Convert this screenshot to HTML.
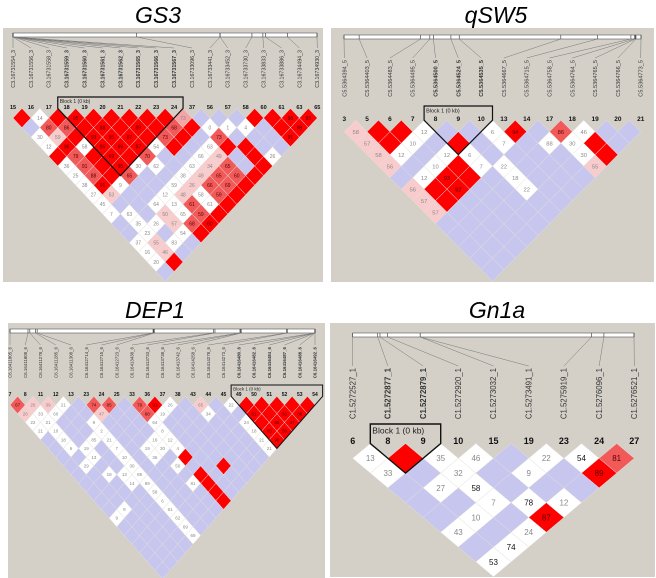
<!DOCTYPE html>
<html><head><meta charset="utf-8">
<style>
html,body{margin:0;padding:0;background:#fff;}
svg{display:block;font-family:"Liberation Sans",sans-serif;}
</style></head>
<body>
<svg id="fig" width="656" height="578" viewBox="0 0 656 578" xmlns="http://www.w3.org/2000/svg">
  <rect x="3" y="28" width="320" height="254" fill="#d4d0c8"/>
  <rect x="331" y="28" width="323" height="254" fill="#d4d0c8"/>
  <rect x="8" y="323" width="317" height="255" fill="#d4d0c8"/>
  <rect x="330" y="323" width="325" height="254" fill="#d4d0c8"/>
  <text x="158" y="23" font-size="23" font-style="italic" text-anchor="middle">GS3</text>
  <text x="496" y="23" font-size="23" font-style="italic" text-anchor="middle">qSW5</text>
  <text x="155" y="318" font-size="23" font-style="italic" text-anchor="middle">DEP1</text>
  <text x="497" y="318" font-size="23" font-style="italic" text-anchor="middle">Gn1a</text>
</svg>
<script>
// ---------- GS3 data ----------
const gs3Nums = ["15","16","17","18","19","20","21","22","23","24","37","56","57","58","60","61","63","65"];
const gs3Names = ["C3.16731554_3","C3.16731556_3","C3.16731558_3","C3.16731559_3","C3.16731560_3","C3.16731561_3","C3.16731562_3","C3.16731565_3","C3.16731566_3","C3.16731567_3","C3.16733096_3","C3.16733441_3","C3.16733452_3","C3.16733730_3","C3.16733833_3","C3.16733886_3","C3.16734494_3","C3.16734930_3"];
const gs3Pos = [0,0,0,0,0,0,0,0,0,0,0.407,0.681,0.681,0.786,0.822,0.830,0.903,1];
const gs3Cells = [
 ["R","w14","R","R95","R","R","R","R","R","p73","b","b","b","R","R","R98","R93"],
 ["b","r80","r86","R","R88","R","R89","R","r68","R","w0","w1","w4","b","R","R98"],
 ["w30","l59","R","R93","R95","R87","R","r73","R","b","r73","b","b","b","R91"],
 ["w12","R96","w58","R95","R89","R87","w54","R","b","w63","R","R","b","b"],
 ["R","r79","R","R69","R","r70","b","b","w66","l49","b","R","w26"],
 ["w36","r91","R","R95","w30","w62","b","w63","l34","r65","b","R"],
 ["w25","r88","R","r65","b","b","w38","l49","r65","r60","R"],
 ["w38","R91","w9","b","b","w59","l26","r66","r69","R"],
 ["w27","l53","b","b","w12","l48","w58","r59","R"],
 ["w45","b","b","w64","w13","r61","w61","R"],
 ["w7","w63","b","l50","w65","r59","R"],
 ["b","w35","w26","l57","r68","R60"],
 ["b","w23","b","w54","R"],
 ["w37","l55","w83","b"],
 ["w16","l46","b"],
 ["w20","R"],
 ["b"]
];
// ---------- qSW5 data ----------
const qswNums = ["3","5","6","7","8","9","10","13","14","17","18","19","20","21"];
const qswNames = ["C5.5364394_5","C5.5364403_5","C5.5364483_5","C5.5364495_5","C5.5364500_5","C5.5364524_5","C5.5364535_5","C5.5364667_5","C5.5364715_5","C5.5364758_5","C5.5364764_5","C5.5364765_5","C5.5364766_5","C5.5364773_5"];
const qswPos = [0,0.051,0.258,0.289,0.301,0.360,0.388,0.730,0.854,0.966,0.978,0.981,0.983,1];
const qswCells = [
 ["l58","R","R","w12","b","b","w6","R94","b","r86","w46","b","b"],
 ["l57","R","w10","b","R","b","w7","b","w88","w30","R","b"],
 ["l58","w12","b","w12","w6","b","b","b","b","w30","R"],
 ["l56","b","w10","R","w7","w22","b","b","b","l55"],
 ["b","w12","R93","R","b","w18","b","b","b"],
 ["l56","R","R92","b","b","w22","b","b"],
 ["l57","R","b","b","b","b","b"],
 ["l57","b","b","b","b","b"],
 ["b","b","b","b","b"],
 ["b","b","b","b"],
 ["b","b","b"],
 ["b","b"],
 ["b"]
];
// ---------- DEP1 data ----------
const depNums = ["7","8","11","12","13","23","24","25","33","36","37","38","43","44","45","49","50","51","52","53","54"];
const depNames = ["C6.16411805_6","C6.16411808_6","C6.16411278_6","C6.16411285_6","C6.16411308_6","C6.16412714_6","C6.16412715_6","C6.16412723_6","C6.16413438_6","C6.16413733_6","C6.16413738_6","C6.16413742_6","C6.16414258_6","C6.16414278_6","C6.16414273_6","C6.16416480_6","C6.16416482_6","C6.16416484_6","C6.16416487_6","C6.16416488_6","C6.16416492_6"];
const depPos = [0,0.059,0.065,0.084,0.089,0.469,0.471,0.473,0.667,0.672,0.754,0.756,0.758,0.907,0.909,1,1,1,1,1,1];
const depCells = [
 ["r67","l26","l39","w21","b","r74","r85","b","r79","R91","w26","b","l65","b","w22","R","R","R","R","R"],
 ["l26","w33","w60","b","b","l47","b","b","r68","w19","b","b","w34","b","b","R61","R","R32","R88"],
 ["w22","w21","b","b","w9","b","b","b","w64","b","b","b","b","b","w24","R","R85","R37"],
 ["w21","w10","b","b","w2","b","b","b","w8","b","b","b","b","b","w18","R65","R50"],
 ["b","w18","b","w85","w21","b","b","w16","w12","b","b","b","b","b","w21","R90"],
 ["b","w6","w19","b","w7","b","w19","w30","w4","b","b","b","b","b","w21"],
 ["b","b","w13","b","w10","b","w36","b","R","b","b","b","b","b"],
 ["b","w29","b","b","w30","b","b","w50","b","b","R","b","b"],
 ["b","b","w18","w13","w85","b","b","b","R","b","b","b"],
 ["b","b","b","w14","w89","b","b","w81","R","b","b"],
 ["b","b","b","b","w58","b","b","b","R","b"],
 ["b","b","b","b","w6","b","b","b","R"],
 ["b","w9","b","b","w61","b","b","b"],
 ["w9","b","b","b","w62","b","b"],
 ["b","b","b","b","w69","b"],
 ["b","b","b","b","w69"],
 ["b","b","b","b"],
 ["b","b","b"],
 ["b","b"],
 ["b"]
];
// ---------- Gn1a data ----------
const gnNums = ["6","8","9","10","15","19","23","24","27"];
const gnNames = ["C1.5272527_1","C1.5272877_1","C1.5272879_1","C1.5272920_1","C1.5273032_1","C1.5273491_1","C1.5275919_1","C1.5276096_1","C1.5276521_1"];
const gnPos = [0,0.089,0.097,0.124,0.240,0.240,0.849,0.893,1];
const gnCells = [
 ["w13","R","w35","w46","b","w22","k54","r81"],
 ["w33","b","w32","b","w9","b","R89"],
 ["b","w27","k58","b","b","b"],
 ["b","b","w7","k78","w12"],
 ["b","w10","b","R87"],
 ["w43","b","w24"],
 ["b","k74"],
 ["k53"]
];

const NS = "http://www.w3.org/2000/svg";
const svg = document.getElementById('fig');
const COL = {R:"#ff0000",r:"#f25a5a",p:"#f4a4a4",l:"#f8cccc",w:"#ffffff",k:"#ffffff",b:"#c6c6ee"};

function mk(tag, attrs, parent){
  const e = document.createElementNS(NS, tag);
  for (const k in attrs) e.setAttribute(k, attrs[k]);
  (parent||svg).appendChild(e);
  return e;
}

function drawPanel(id, nums, names, pos, cells, g, block){
  const grp = mk('g', {});
  
  
  const n = nums.length;
  const mx = i => g.x0 + i * g.step;
  const ruler = mk('rect', {x:g.rx0, y:g.ry, width:g.rx1-g.rx0, height:4, fill:"#fff", stroke:"#555", "stroke-width":0.6}, grp);
  
  
  for (let i=0;i<n;i++){
    const px = g.rx0 + pos[i]*(g.rx1-g.rx0);
    mk('line', {x1:px, y1:g.ry, x2:px, y2:g.ry+4, stroke:"#333", "stroke-width":0.6}, grp);
    const ln = mk('line', {x1:px, y1:g.ry+4, x2:mx(i), y2:g.lt-2, stroke:"#777", "stroke-width":0.5}, grp);
    
    
    const bold = block && i>=block[0] && i<=block[1];
    const t = mk('text', {x:0, y:0, "font-size":g.lf, "text-anchor":"end", fill:"#333", "font-weight":bold?"bold":"normal",
      transform:`translate(${mx(i)+g.lf*0.35},${g.lt}) rotate(-90)`}, grp);
    t.textContent = names[i];
    
    
    const nt = mk('text', {x:mx(i), y:g.ny, "font-size":g.nf, "text-anchor":"middle", "font-weight":"bold", fill:"#111"}, grp);
    nt.textContent = nums[i];
    
    
  }
  const hw = g.step/2, hh = g.vh;
  for (let k=1;k<=cells.length;k++){
    const row = cells[k-1];
    for (let i=0;i<row.length;i++){
      const tok = row[i];
      const c = tok[0], v = tok.slice(1);
      const cx = g.x0 + (i + k/2)*g.step;
      const cy = g.y1 + (k-1)*hh;
      const d = mk('polygon', {points:`${cx},${cy-hh} ${cx+hw},${cy} ${cx},${cy+hh} ${cx-hw},${cy}`, fill:COL[c], stroke:"#e4e0dc", "stroke-width":0.5}, grp);
      
      
      if (v){
        const tc = (c==='R'||c==='r') ? "#500" : (c==='k' ? "#111" : "#888");
        const vt = mk('text', {x:cx, y:cy+g.vf*0.36, "font-size":g.vf, "text-anchor":"middle", fill:tc}, grp);
        vt.textContent = v;
        
        
      }
    }
  }
  if (block){
    const a=block[0], b=block[1], span=b-a;
    const xs = mx(a)-hw, xe = mx(b)+hw, yn = g.y1-hh;
    const ax = (mx(a)+mx(b))/2, ay = g.y1 + span*hh;
    const bl = mk('polygon', {points:`${xs},${g.bt} ${xe},${g.bt} ${xe},${yn} ${ax},${ay} ${xs},${yn}`, fill:"none", stroke:"#111", "stroke-width":g.bw}, grp);
    
    
    const bt = mk('text', {x:xs+2, y:g.bt+g.bf+1, "font-size":g.bf, fill:"#222"}, grp);
    bt.textContent = "Block 1 (0 kb)";
    
    
  }
}

drawPanel('gs3', gs3Nums, gs3Names, gs3Pos, gs3Cells,
  {x0:13, step:17.9, ny:109, y1:118, vh:9.6, ry:33, rx0:13, rx1:317, lt:50, lf:5.3, nf:5.5, vf:5, bt:97, bf:5, bw:1.2}, [3,9]);
drawPanel('qsw5', qswNums, qswNames, qswPos, qswCells,
  {x0:344.3, step:22.8, ny:121, y1:131.7, vh:11.5, ry:35, rx0:344, rx1:641, lt:60, lf:5.6, nf:6.5, vf:5.8, bt:106, bf:5.5, bw:1.2}, [4,6]);
drawPanel('dep1', depNums, depNames, depPos, depCells,
  {x0:10, step:15.25, ny:396, y1:405, vh:8.7, ry:329, rx0:10, rx1:315, lt:347, lf:4.4, nf:5, vf:4.5, bt:385, bf:4.5, bw:1}, [15,20]);
drawPanel('gn1a', gnNums, gnNames, gnPos, gnCells,
  {x0:352.7, step:35.2, ny:444, y1:458.3, vh:14.8, ry:333, rx0:352.7, rx1:634, lt:368, lf:7.8, nf:9, vf:8, bt:424, bf:8.5, bw:1.4}, [1,2]);
</script>
</body></html>
